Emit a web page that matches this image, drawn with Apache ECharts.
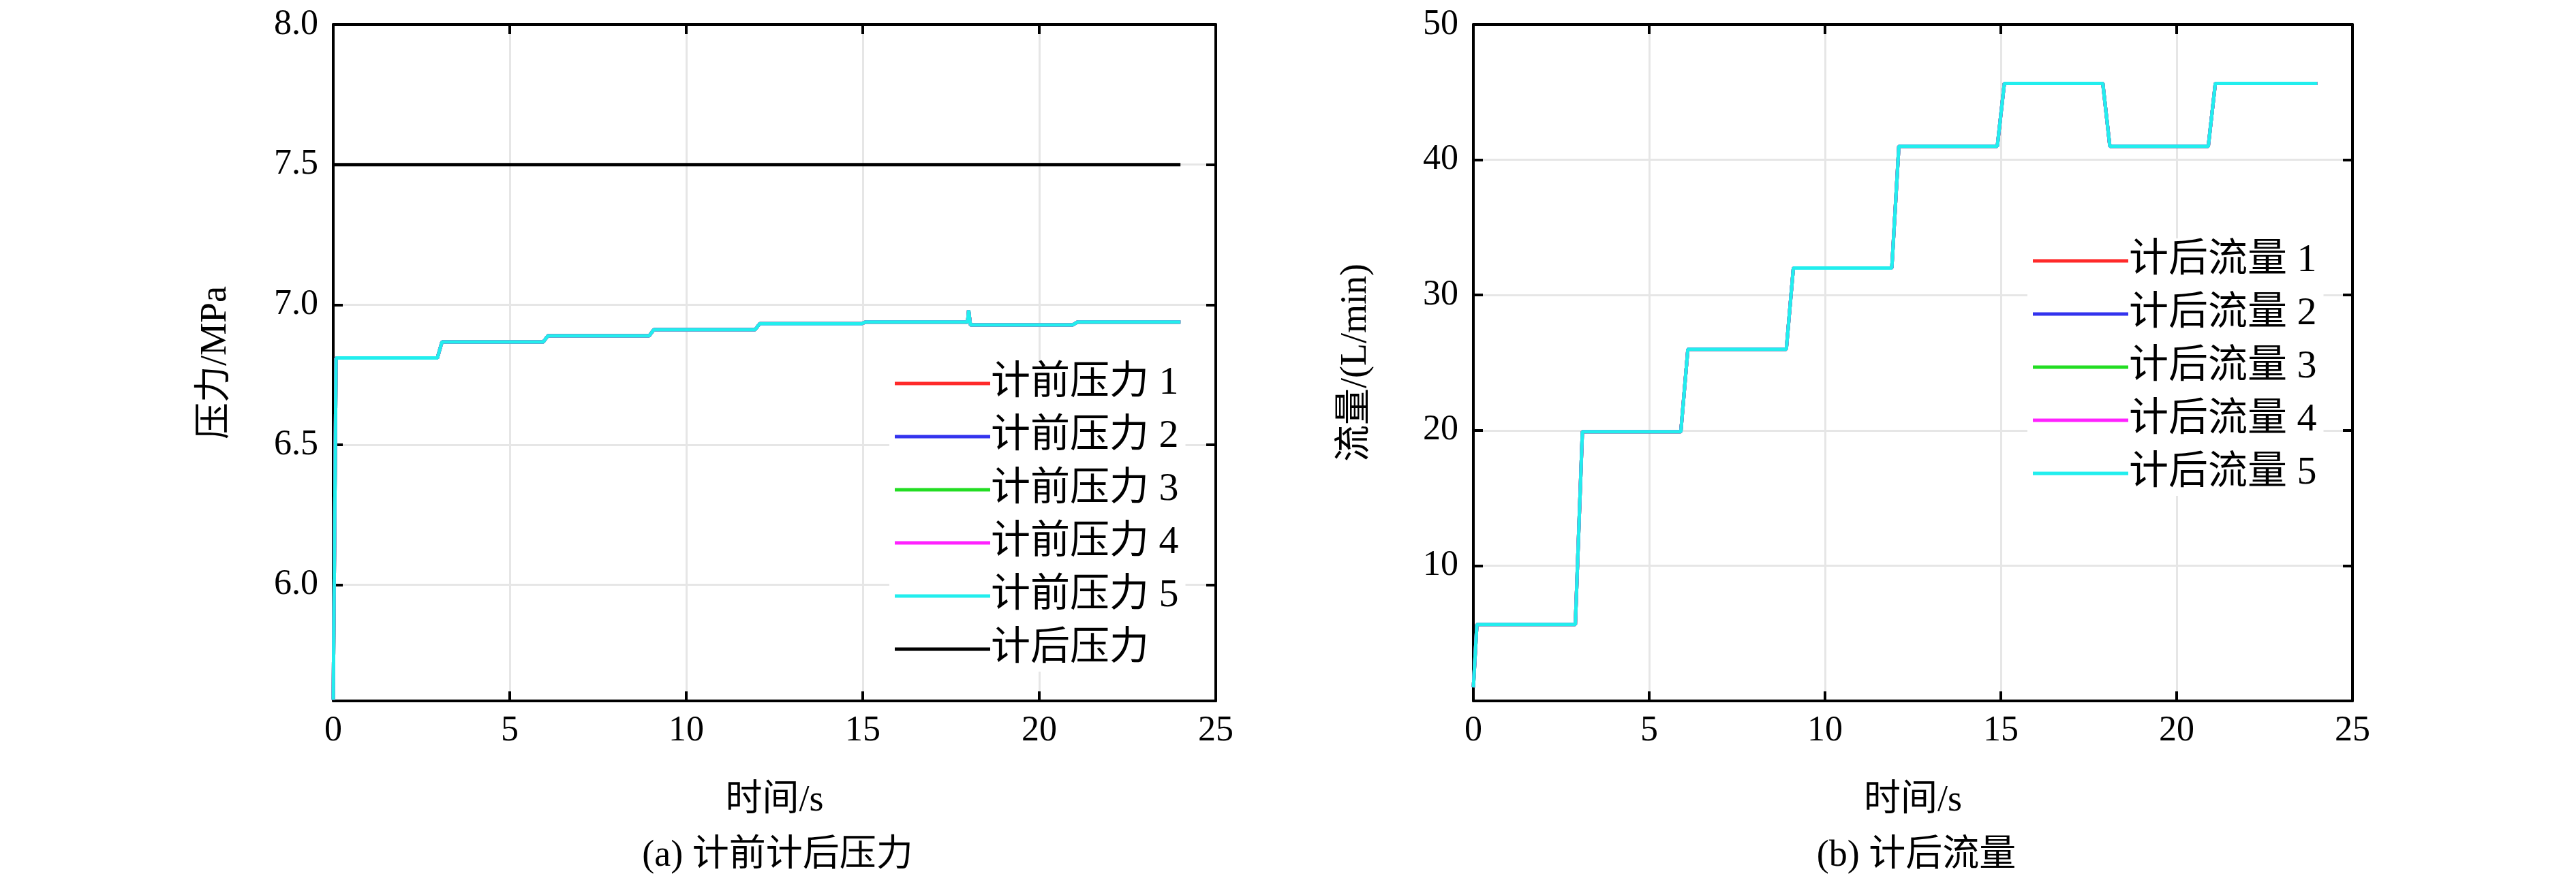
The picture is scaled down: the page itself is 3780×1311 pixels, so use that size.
<!DOCTYPE html>
<html>
<head>
<meta charset="utf-8">
<script src="https://cdn.jsdelivr.net/npm/echarts@6/dist/echarts.min.js"></script>
<style>
  html, body { margin: 0; padding: 0; background: #fff; }
  #chart { width: 3780px; height: 1311px; }
</style>
</head>
<body>
<div id="chart"></div>
<script>
// ============================================================================
// Data
// ============================================================================

// pressure before meter (all five runs overlap)
const pressureTime = [0, 0.08, 2.95, 3.08, 5.95, 6.08, 8.95, 9.08, 11.95, 12.08, 14.95, 15.08, 17.97, 18.0, 18.05, 20.95, 21.08, 24]
const pressureBefore = [5.59, 6.81, 6.81, 6.867, 6.867, 6.889, 6.889, 6.911, 6.911, 6.932, 6.932, 6.938, 6.938, 6.98, 6.928, 6.928, 6.938, 6.938]
const pressureAfterTime = [0, 24]
const pressureAfter = [7.5, 7.5]

// flow after meter (all five runs overlap)
const flowTime = [0, 0.1, 2.9, 3.1, 5.9, 6.1, 8.9, 9.1, 11.9, 12.1, 14.9, 15.1, 17.9, 18.1, 20.9, 21.1, 24]
const flowAfter = [1.0, 5.65, 5.65, 19.9, 19.9, 26.0, 26.0, 32.0, 32.0, 41.0, 41.0, 45.65, 45.65, 41.0, 41.0, 45.65, 45.65]

const xTicks = [0, 5, 10, 15, 20, 25]
const pressureTicks = [6.0, 6.5, 7.0, 7.5, 8.0]
const flowTicks = [10, 20, 30, 40, 50]

const pressureNames = ['计前压力 1', '计前压力 2', '计前压力 3', '计前压力 4', '计前压力 5', '计后压力']
const flowNames = ['计后流量 1', '计后流量 2', '计后流量 3', '计后流量 4', '计后流量 5']
const runColors = ['#ff2a2a', '#3333ee', '#22dd22', '#ff22ff', '#22eeee']

// ============================================================================
// Helpers
// ============================================================================

const FONT = '"Liberation Serif", "Noto Sans CJK SC", serif'
const zip = (xs, ys) => xs.map((x, i) => [x, ys[i]])
const TICK = {show: true, inside: true, length: 14, lineStyle: {color: '#000', width: 4}}
const LINE = {show: true, onZero: false, lineStyle: {color: '#000', width: 4}}

function xAxisPair(gridIndex) {
    const base = {
        type: 'value', min: 0, max: 25, interval: 5, gridIndex: gridIndex,
        axisLine: LINE, axisTick: TICK,
    }
    return [
        {...base, position: 'bottom',
            axisLabel: {show: true, fontSize: 52, fontFamily: FONT, color: '#000', margin: 18},
            splitLine: {show: true, lineStyle: {color: '#e6e6e6', width: 3}},
            name: '时间/s', nameLocation: 'middle', nameGap: 120,
            nameTextStyle: {fontSize: 54, fontFamily: FONT, color: '#000'}},
        {...base, position: 'top', axisLabel: {show: false}, splitLine: {show: false}},
    ]
}

function yAxisPair(gridIndex, min, max, ticks, name, digits) {
    const base = {
        type: 'value', min: min, max: max, gridIndex: gridIndex,
        axisLine: LINE, axisTick: {...TICK, customValues: ticks},
    }
    return [
        {...base, position: 'left',
            axisLabel: {show: true, customValues: ticks, fontSize: 52, fontFamily: FONT, color: '#000', margin: 22,
                formatter: v => v.toFixed(digits)},
            splitLine: {show: true, lineStyle: {color: '#e6e6e6', width: 3}},
            name: name, nameLocation: 'middle', nameGap: 145,
            nameTextStyle: {fontSize: 54, fontFamily: FONT, color: '#000'}},
        {...base, position: 'right', axisLabel: {show: false}, splitLine: {show: false}},
    ]
}

function lineSeries(name, color, data, axisIdx) {
    return {
        name: name, type: 'line', data: data, showSymbol: false, animation: false,
        xAxisIndex: axisIdx, yAxisIndex: axisIdx,
        lineStyle: {color: color, width: 5}, itemStyle: {color: color},
    }
}

function legend(names, left, top) {
    return {
        data: names, orient: 'vertical', left: left, top: top,
        icon: 'rect', itemWidth: 140, itemHeight: 5, itemGap: 20, itemStyle: {borderWidth: 0},
        backgroundColor: '#fff', padding: [4, 10, 4, 8],
        textStyle: {fontSize: 58, fontFamily: FONT, color: '#000', padding: [0, 0, 0, -4]},
    }
}

// ============================================================================
// Render
// ============================================================================

const chart = echarts.init(document.getElementById('chart'))

const series = []
runColors.forEach((c, i) => series.push(lineSeries(pressureNames[i], c, zip(pressureTime, pressureBefore), 0)))
series.push(lineSeries(pressureNames[5], '#000', zip(pressureAfterTime, pressureAfter), 0))
runColors.forEach((c, i) => series.push(lineSeries(flowNames[i], c, zip(flowTime, flowAfter), 2)))

chart.setOption({
    animation: false,
    grid: [
        {left: 489, top: 36, width: 1295, height: 993},
        {left: 2162, top: 36, width: 1290, height: 993},
    ],
    xAxis: [...xAxisPair(0), ...xAxisPair(1)],
    yAxis: [
        ...yAxisPair(0, 5.586, 8, pressureTicks, '压力/MPa', 1),
        ...yAxisPair(1, 0, 50, flowTicks, '流量/(L/min)', 0),
    ],
    legend: [
        legend(pressureNames, 1305, 530),
        legend(flowNames, 2975, 350),
    ],
    title: [
        {text: '(a) 计前计后压力', left: 1136, top: 1225, textAlign: 'center',
            textStyle: {fontSize: 54, fontWeight: 'normal', fontFamily: FONT, color: '#000'}},
        {text: '(b) 计后流量', left: 2807, top: 1225, textAlign: 'center',
            textStyle: {fontSize: 54, fontWeight: 'normal', fontFamily: FONT, color: '#000'}},
    ],
    series: series,
})
</script>
</body>
</html>
